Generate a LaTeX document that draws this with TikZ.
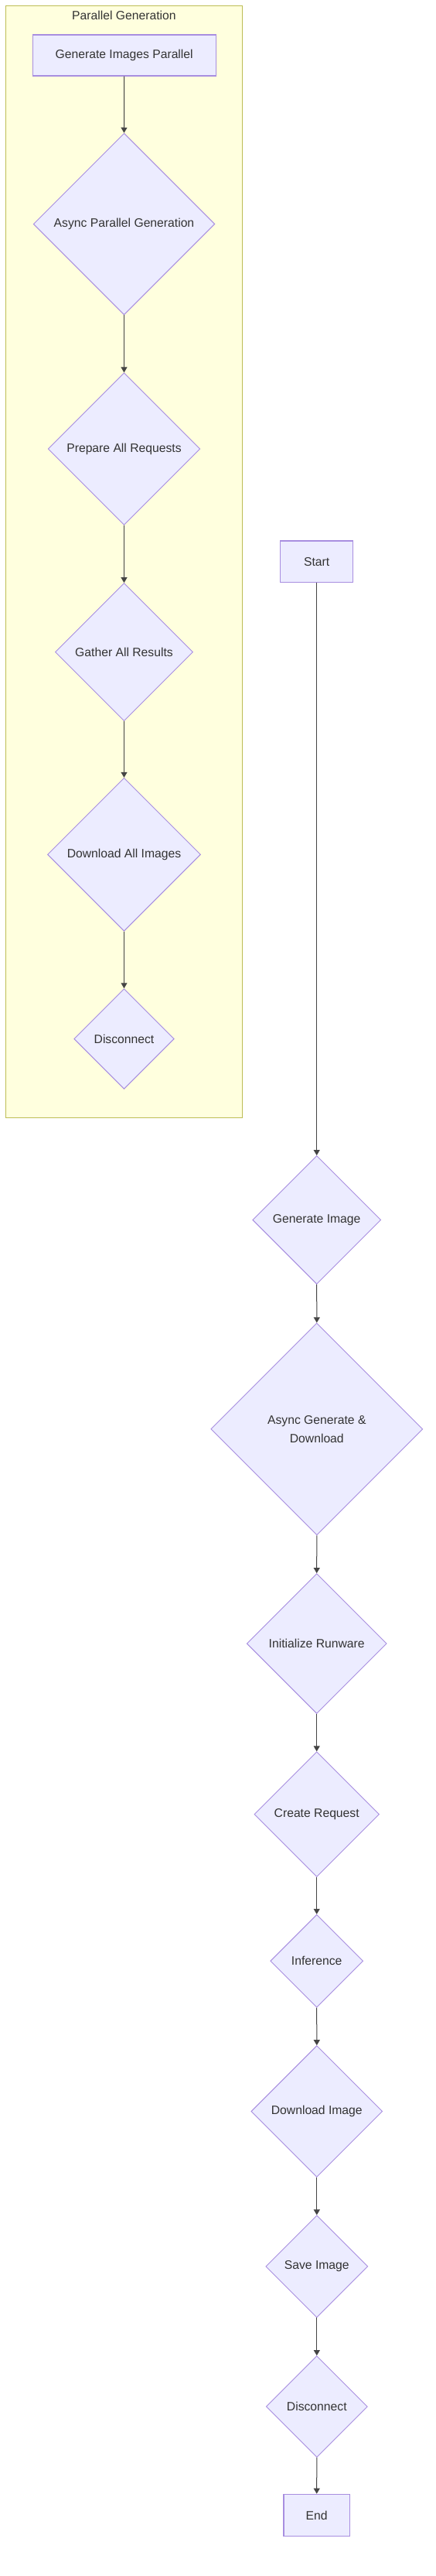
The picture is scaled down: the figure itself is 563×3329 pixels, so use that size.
\documentclass[tikz,border=0pt]{standalone}
\usepackage{fontspec}
\setmainfont{Liberation Sans}
\usetikzlibrary{shapes.geometric,arrows.meta}
\definecolor{nodefill}{HTML}{ECECFF}
\definecolor{nodeline}{HTML}{A88EE0}
\definecolor{clusterfill}{HTML}{FFFFDE}
\definecolor{clusterline}{HTML}{BDBD55}
\definecolor{textgrey}{HTML}{333333}
\definecolor{edgegrey}{HTML}{444444}
\tikzset{
  basenode/.style={fill=nodefill, draw=nodeline, line width=0.9pt, text=textgrey,
    font=\fontsize{15.7}{24}\selectfont, inner sep=0pt, align=center},
  procbox/.style={basenode, rectangle, line width=1.4pt},
  decide/.style={basenode, diamond, aspect=1},
  flow/.style={draw=edgegrey, line width=1pt, -{Triangle[length=7pt,width=8pt]}},
  clusterbox/.style={fill=clusterfill, draw=clusterline, line width=1.2pt},
  clustertitle/.style={text=textgrey, font=\fontsize{15.7}{24}\selectfont, inner sep=0pt}
}
\begin{document}
\begin{tikzpicture}[x=1pt,y=-1pt]
\useasboundingbox[fill=white] (0,0) rectangle (563,3329);
% cluster
\draw[clusterbox] (7.2,7.2) rectangle (313.5,1444.5);
\node[clustertitle] (ctitle) at (160.4,20) {Parallel Generation};
% left column
\node[procbox, minimum width=237pt, minimum height=53pt] (gip) at (160.7,71.5) {Generate Images Parallel};
\node[decide, minimum size=234.6pt] (apg) at (160.5,289.5) {Async Parallel Generation};
\node[decide, minimum size=196.6pt] (par) at (160.5,580.2) {Prepare All Requests};
\node[decide, minimum size=178pt] (gar) at (160.5,842.6) {Gather All Results};
\node[decide, minimum size=198pt] (dai) at (160.5,1104.3) {Download All Images};
\node[decide, minimum size=129.6pt] (dis1) at (160.5,1342.5) {Disconnect};
% right column
\node[procbox, minimum width=94pt, minimum height=53.6pt] (start) at (409.7,725.8) {Start};
\node[decide, minimum size=166pt] (gen) at (409.7,1576.5) {Generate Image};
\node[decide, minimum size=274pt] (agd) at (409.8,1846.8) {Async Generate \&\\Download};
\node[decide, minimum size=181pt] (ir) at (409.7,2124) {Initialize Runware};
\node[decide, minimum size=161.5pt] (cr) at (409.7,2344.6) {Create Request};
\node[decide, minimum size=120pt] (inf) at (409.7,2534.2) {Inference};
\node[decide, minimum size=169.8pt] (di) at (409.8,2728.5) {Download Image};
\node[decide, minimum size=132pt] (si) at (409.8,2928.9) {Save Image};
\node[decide, minimum size=131pt] (dis2) at (409.8,3110) {Disconnect};
\node[procbox, minimum width=85.4pt, minimum height=54pt] (end) at (409.7,3250.4) {End};
% edges
\draw[flow] (gip.south) -- (apg.north);
\draw[flow] (apg.south) -- (par.north);
\draw[flow] (par.south) -- (gar.north);
\draw[flow] (gar.south) -- (dai.north);
\draw[flow] (dai.south) -- (dis1.north);
\draw[flow] (start.south) -- (gen.north);
\draw[flow] (gen.south) -- (agd.north);
\draw[flow] (agd.south) -- (ir.north);
\draw[flow] (ir.south) -- (cr.north);
\draw[flow] (cr.south) -- (inf.north);
\draw[flow] (inf.south) -- (di.north);
\draw[flow] (di.south) -- (si.north);
\draw[flow] (si.south) -- (dis2.north);
\draw[flow] (dis2.south) -- (end.north);
\end{tikzpicture}
\end{document}
